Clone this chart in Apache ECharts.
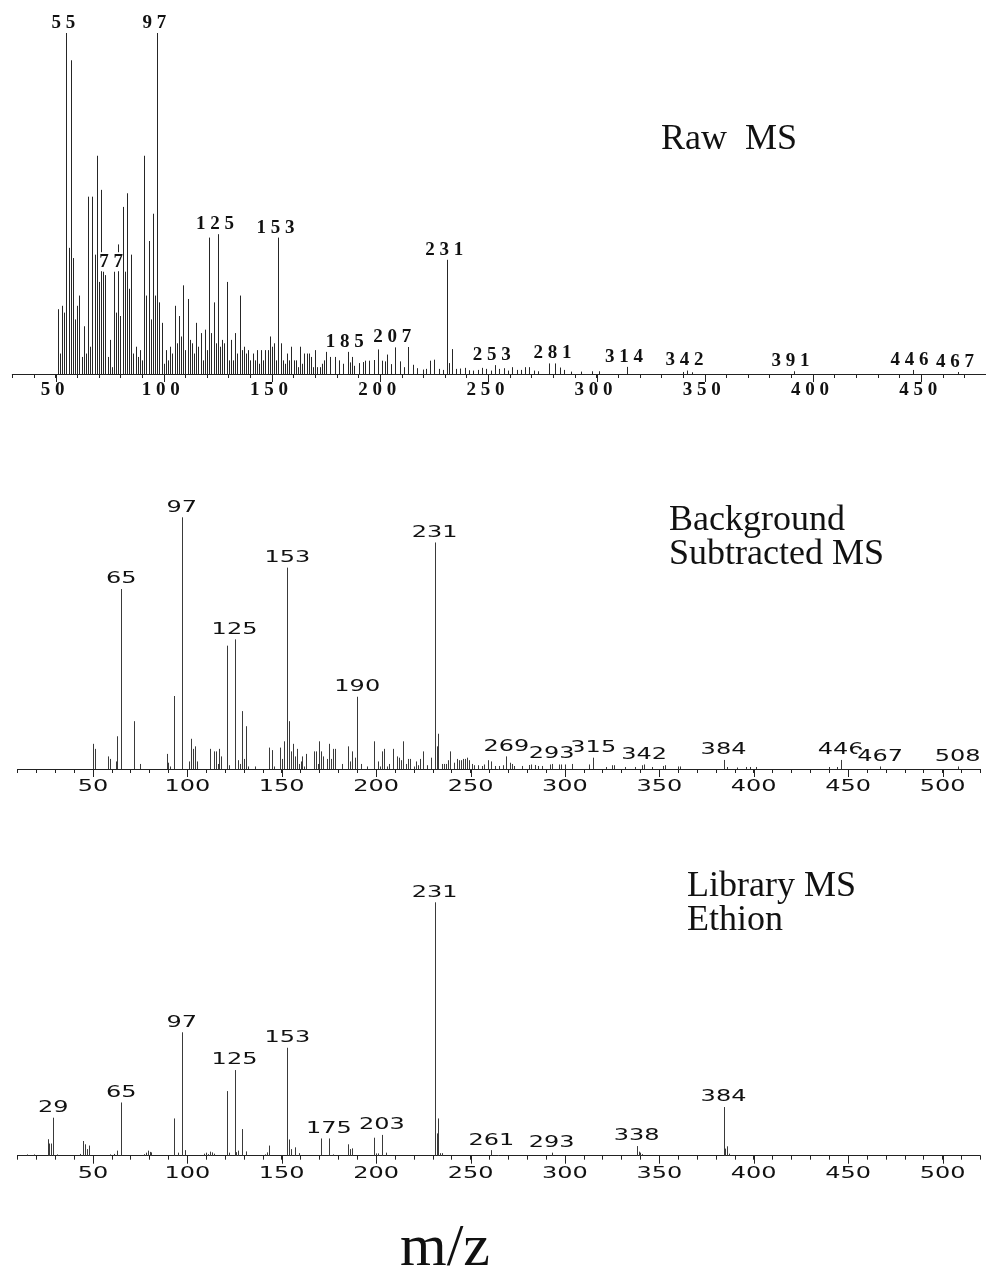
<!DOCTYPE html>
<html><head><meta charset="utf-8">
<script src="https://cdn.jsdelivr.net/npm/echarts@6/dist/echarts.min.js"></script>
<style>html,body{margin:0;padding:0;background:#fff}#c{width:986px;height:1275px}</style>
</head><body><div id="c"></div>
<script>
// ---------- DATA (m/z, relative intensity %) ----------
const rawPeaks = [[51,19],[52,6],[53,20],[54,18],[55,100],[56,37],[57,92],[58,34],[59,16],[60,20],[61,23],[62,5],[63,14],[64,6],[65,52],[66,8],[67,52],[68,35],[69,64],[70,27],[71,54],[72,30],[73,29],[74,5],[75,10],[76,2],[77,30],[78,18],[79,38],[80,17],[81,49],[82,30],[83,53],[84,25],[85,35],[86,6],[87,8],[88,5],[89,7],[90,4],[91,64],[92,23],[93,39],[94,16],[95,47],[96,23],[97,100],[98,21],[99,15],[100,3],[101,7],[102,4],[103,8],[104,6],[105,20],[106,9],[107,17],[108,11],[109,26],[110,7],[111,22],[112,10],[113,9],[114,6],[115,15],[116,8],[117,12],[118,4],[119,13],[120,7],[121,40],[122,12],[123,21],[124,9],[125,41],[126,8],[127,10],[128,9],[129,27],[130,4],[131,10],[132,4],[133,12],[134,6],[135,23],[136,7],[137,8],[138,6],[139,7],[140,4],[141,6],[142,4],[143,7],[144,3],[145,7],[146,4],[147,7],[148,7],[149,11],[150,8],[151,9],[152,4],[153,40],[154,9],[155,4],[156,3],[157,6],[158,4],[159,8],[160,4],[161,4],[162,2],[163,8],[164,3],[165,6],[166,6],[167,6],[168,5],[169,2],[170,7],[171,2],[172,2],[173,3],[174,4],[175,6.5],[177,5],[179,5],[181,4],[183,3],[185,6.5],[186,3.4],[187,5],[188,2.4],[190,3.2],[192,3.5],[193,3.9],[195,3.9],[197,4.1],[199,7.2],[201,3.9],[202,3.7],[203,5.7],[205,2.9],[207,7.8],[209,3.7],[211,2],[213,8],[215,2.7],[217,1.7],[220,1.3],[221,1.5],[223,3.9],[225,4.2],[227,1.5],[229,1.2],[231,33.5],[232,3.2],[233,7.3],[235,1.5],[237,1.6],[239,1.8],[241,1.1],[243,1],[245,1.2],[247,1.8],[249,1.5],[251,1],[253,2.6],[255,1.5],[257,1.7],[259,1],[261,2],[263,1.2],[265,1.2],[267,2],[269,2],[271,1],[273,0.8],[278,3.1],[281,3.1],[283,1.9],[285,1.2],[288,0.7],[293,0.7],[298,0.8],[301,0.8],[314,2.1],[340,0.6],[342,1],[344,0.5],[391,0.8],[446,1.2],[467,0.6]];
const rawLabels = [55,77,97,125,153,185,207,231,253,281,314,342,391,446,467];
const rawTicks = [50,100,150,200,250,300,350,400,450];

const bgsPeaks = [[50,10],[51,8],[58,5],[59,4],[62,3],[63,13],[65,71.5],[72,19],[75,2],[89,6],[90,2.5],[91,1],[93,29],[97,100],[101,3],[102,12],[103,8],[104,9],[105,3],[112,8],[114,7],[115,7],[116,2],[117,8],[118,5],[121,49],[122,1.5],[125,51.5],[127,3.5],[128,2],[129,23],[130,4],[131,17],[132,1],[136,1],[143,8.5],[145,7.5],[146,1],[149,8.5],[150,4],[151,11],[153,80],[154,19],[155,7],[156,10],[157,5],[158,8],[159,2],[160,3],[161,5],[162,1],[163,6],[167,7],[168,7],[169,2],[170,11],[171,7],[172,5],[174,4],[175,10],[176,4],[177,8],[178,8],[182,2],[185,9],[186,3],[187,7],[189,4.5],[190,28.7],[192,2],[195,1],[199,11],[201,3],[202,1],[203,7],[204,8],[206,1],[207,2],[209,8],[211,5],[212,4.5],[213,3.5],[214,11],[216,2],[217,4],[218,4],[220,1],[221,3],[222,1.5],[223,4],[225,7],[227,1.5],[229,4.5],[231,90],[232,9],[233,14],[235,2],[236,2],[237,2],[238,3.5],[239,7],[241,2.5],[243,4],[244,3.5],[245,3.5],[246,4],[247,4],[248,4.5],[249,3.5],[251,2],[252,1.5],[254,1.5],[256,1.2],[257,1.8],[259,3.5],[261,3],[263,1.2],[265,1.2],[267,1.5],[269,5],[271,2.5],[272,2],[273,1.2],[277,1.2],[281,1.6],[282,1.8],[284,1.6],[286,1.2],[288,1.2],[292,1.8],[293,2],[297,1.8],[298,1.8],[300,1.8],[304,2],[313,1.8],[315,4.5],[322,0.8],[325,1.5],[326,1.5],[332,0.8],[337,0.8],[341,1.5],[342,1.8],[346,0.8],[352,1.2],[353,1.5],[360,1],[361,1],[384,3.6],[386,0.8],[391,0.6],[396,0.8],[398,0.8],[401,0.8],[440,0.8],[444,0.8],[446,3.6],[467,1],[508,1]];
const bgsLabels = [65,97,125,153,190,231,269,315,293,342,384,446,467,508];

const libPeaks = [[15,0.5],[19,0.5],[26,6.5],[27,4.8],[28,4.8],[29,15],[31,0.5],[43,0.7],[45,5.8],[46,4.5],[47,2.6],[48,4],[59,0.5],[61,0.7],[63,2],[65,21],[77,0.6],[78,1.2],[79,2],[80,1.5],[81,1.3],[93,14.7],[95,1.2],[97,48.7],[99,2.2],[109,0.8],[110,1.2],[111,0.6],[112,1.6],[113,1.3],[114,0.8],[121,25.5],[122,1.2],[125,33.8],[126,1.4],[127,2],[129,10.5],[131,1.7],[141,0.5],[142,1.3],[143,4],[153,42.6],[154,6.4],[155,2.6],[157,3.3],[159,1],[171,6.8],[175,6.8],[177,0.5],[185,4.5],[186,2.6],[187,2.9],[199,7.1],[200,0.9],[201,0.9],[203,8.2],[205,1.2],[231,100],[232,8.8],[233,14.7],[234,1],[235,1],[261,2.2],[293,1.2],[338,3.8],[339,1.6],[340,1.2],[341,0.6],[384,19.2],[385,2.8],[386,3.7],[387,0.8]];
const libLabels = [29,65,97,125,153,175,203,231,261,293,338,384];
const msTicks = [50,100,150,200,250,300,350,400,450,500];

const panelTitles = ['Raw  MS', 'Background\nSubtracted MS', 'Library MS\nEthion'];
const axisTitle = 'm/z';

// ---------- rendering ----------
function lookup(peaks, mz){ const p = peaks.find(d => d[0] === mz); return p ? p[1] : 0; }
function labelData(peaks, labels){ return labels.map(m => [m, lookup(peaks, m)]); }

const serifFont = 'bold 19px "Liberation Serif"';
const sansFont = '15px "DejaVu Sans"';

function barItem(color){
  return function(params, api){
    const b = api.coord([api.value(0), 0]);
    const t = api.coord([api.value(0), api.value(1)]);
    const x = Math.round(b[0]) + 0.5;
    return {type:'line', silent:true, shape:{x1:x, y1:b[1], x2:x, y2:t[1]}, style:{stroke:color, lineWidth:1}};
  };
}
function txt(mz, spaced){ return spaced ? String(mz).split('').join(' ') : String(mz); }
function labelItem(font, sx, spaced, gap, dx){
  return function(params, api){
    const mz = api.value(0), h = api.value(1);
    const p = api.coord([mz, h]);
    return {type:'text', x:p[0] + dx, y:p[1] - gap, scaleX:sx, silent:true,
      style:{text:txt(mz, spaced), font:font, fill:'#111', align:'center', verticalAlign:'middle',
             textAlign:'center', textVerticalAlign:'middle', backgroundColor:'#fff'}};
  };
}
function tickItem(font, sx, spaced, len, gap, dx){
  return function(params, api){
    const v = api.value(0);
    const p = api.coord([v, 0]);
    const x = Math.round(p[0]) + 0.5;
    return {type:'group', silent:true, children:[
      {type:'line', shape:{x1:x, y1:p[1], x2:x, y2:p[1] + len}, style:{stroke:'#222', lineWidth:1}},
      {type:'text', x:p[0] + dx, y:p[1] + gap, scaleX:sx,
        style:{text:txt(v, spaced), font:font, fill:'#111', align:'center', verticalAlign:'middle',
               textAlign:'center', textVerticalAlign:'middle'}}
    ]};
  };
}

const grids = [
  {left:12.3, top:33, width:973.8, height:341, outerBoundsMode:'none'},
  {left:17.4, top:517.3, width:962.9, height:251.7, outerBoundsMode:'none'},
  {left:17.4, top:902.3, width:962.9, height:253.4, outerBoundsMode:'none'}
];
const ranges = [[30,480],[10,520],[10,520]];
const xAxes = ranges.map((r, i) => ({
  gridIndex:i, type:'value', min:r[0], max:r[1], interval:10,
  axisLine:{show:true, lineStyle:{color:'#222', width:1}},
  axisTick:{show:true, length:4, lineStyle:{color:'#222', width:1}},
  axisLabel:{show:false}, splitLine:{show:false}
}));
const yAxes = [0,1,2].map(i => ({gridIndex:i, type:'value', min:0, max:100, show:false}));

const panels = [
  {peaks:rawPeaks, labels:rawLabels, ticks:rawTicks, color:'#262626', font:serifFont, sx:1, spaced:true, gap:10, tickGap:16, dx:-3},
  {peaks:bgsPeaks, labels:bgsLabels, ticks:msTicks, color:'#3a3a3a', font:sansFont, sx:1.6, spaced:false, gap:9.5, tickGap:18, dx:0},
  {peaks:libPeaks, labels:libLabels, ticks:msTicks, color:'#3a3a3a', font:sansFont, sx:1.6, spaced:false, gap:9.5, tickGap:18, dx:0}
];
const series = [];
panels.forEach((p, i) => {
  series.push({type:'custom', name:'peaks'+i, xAxisIndex:i, yAxisIndex:i, data:p.peaks, encode:{x:0, y:1}, renderItem:barItem(p.color), z:2});
  series.push({type:'custom', name:'labels'+i, xAxisIndex:i, yAxisIndex:i, data:labelData(p.peaks, p.labels), encode:{x:0, y:1}, renderItem:labelItem(p.font, p.sx, p.spaced, p.gap, p.dx), z:5});
  series.push({type:'custom', name:'ticks'+i, xAxisIndex:i, yAxisIndex:i, data:p.ticks.map(t => [t, 0]), encode:{x:0, y:1}, renderItem:tickItem(p.font, p.sx, p.spaced, 8, p.tickGap, p.dx), z:4});
});

const tStyle = {fontFamily:'"Liberation Serif"', fontSize:36, fontWeight:'normal', color:'#111', lineHeight:34};
const option = {
  animation:false,
  backgroundColor:'#fff',
  title:[
    {text:panelTitles[0], left:661, top:123, padding:0, textStyle:tStyle},
    {text:panelTitles[1], left:669, top:503.5, padding:0, textStyle:tStyle},
    {text:panelTitles[2], left:687, top:870, padding:0, textStyle:tStyle},
    {text:axisTitle, left:400, top:1221, padding:0, textStyle:{fontFamily:'"Liberation Serif"', fontSize:60, fontWeight:'normal', color:'#111', lineHeight:56}}
  ],
  grid:grids, xAxis:xAxes, yAxis:yAxes, series:series
};
const chart = echarts.init(document.getElementById('c'), null, {renderer:'canvas'});
chart.setOption(option);
</script></body></html>
